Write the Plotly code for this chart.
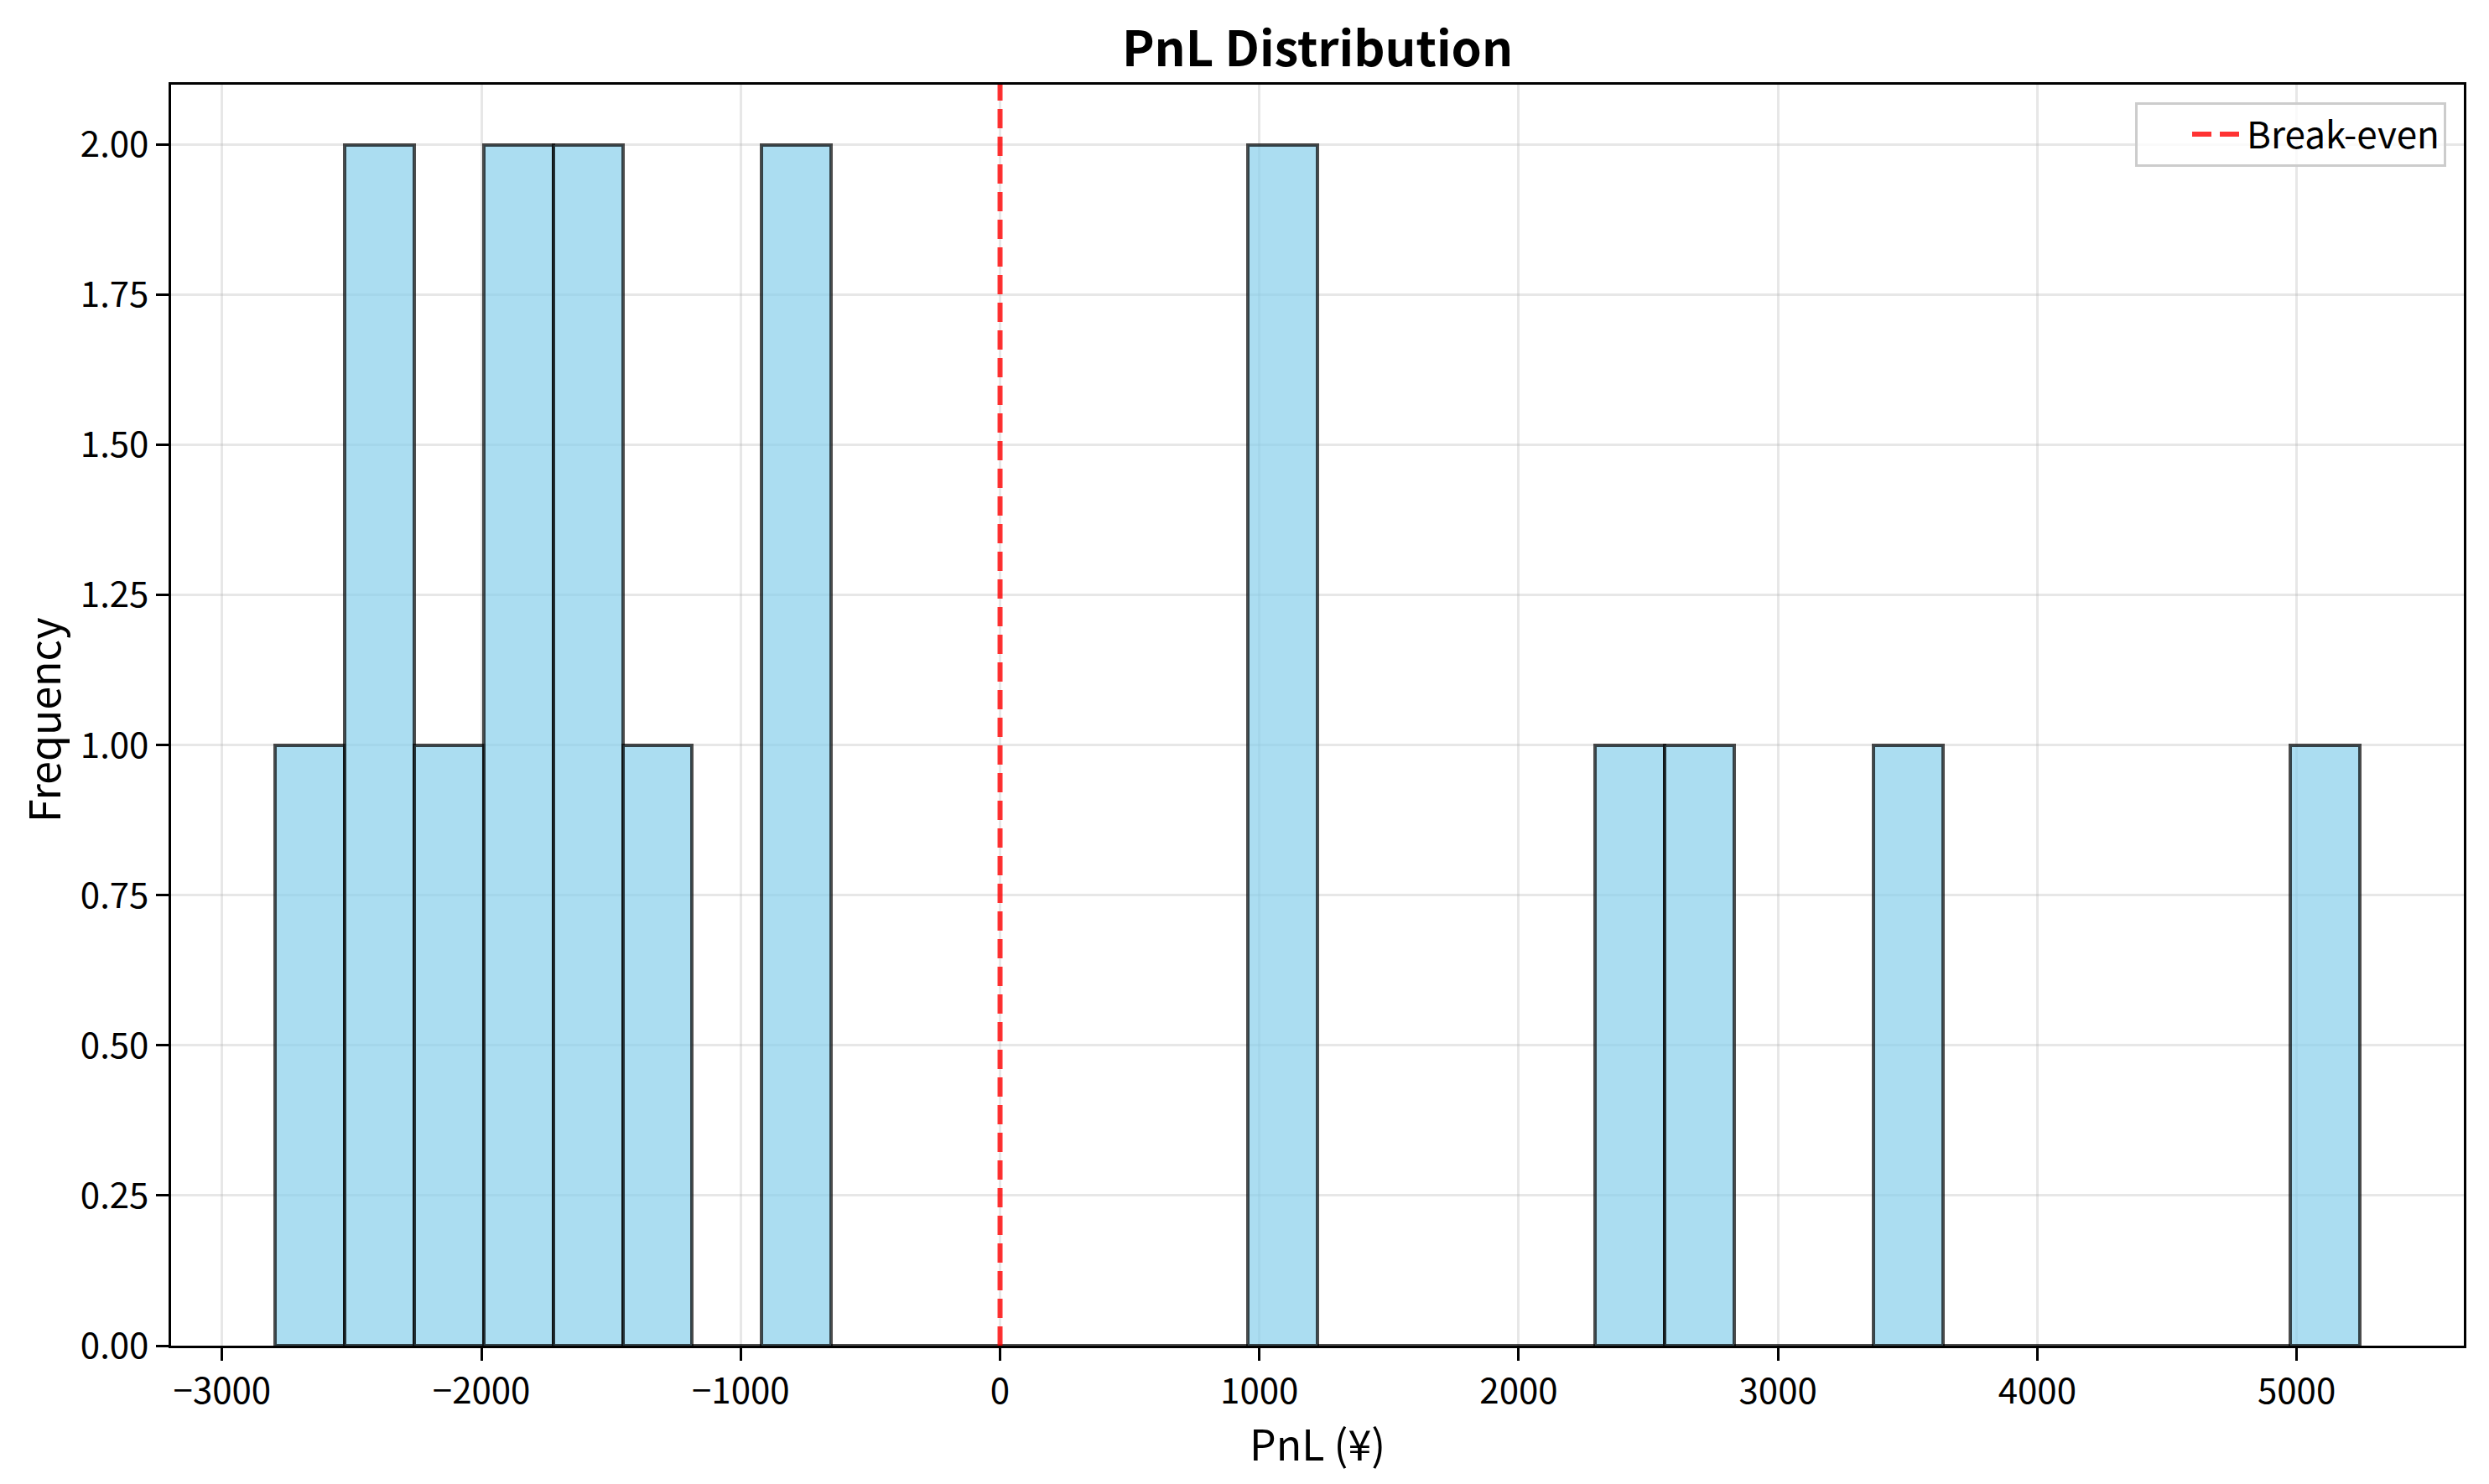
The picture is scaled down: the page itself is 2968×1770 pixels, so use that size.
import plotly.graph_objects as go

# Histogram data (30 bins between min and max PnL)
bin_start = -2795.0
bin_end = 5243.0
n_bins = 30
counts = [1, 2, 1, 2, 2, 1, 0, 2, 0, 0, 0, 0, 0, 0, 2,
          0, 0, 0, 0, 1, 1, 0, 0, 1, 0, 0, 0, 0, 0, 1]
breakeven_x = 0

x_ticks = [-3000, -2000, -1000, 0, 1000, 2000, 3000, 4000, 5000]
y_ticks = [0, 0.25, 0.5, 0.75, 1.0, 1.25, 1.5, 1.75, 2.0]

bin_w = (bin_end - bin_start) / n_bins
centers = [bin_start + (i + 0.5) * bin_w for i in range(n_bins)]

span = bin_end - bin_start
x_range = [bin_start - 0.05 * span, bin_end + 0.05 * span]
y_top = max(counts) * 1.05

FONT = "Noto Sans CJK JP"

# page body offset (browser default margin)
OFF = 8
W, H = 2968 - OFF, 1770 - OFF
ML, MR, MT, MB = 204 - OFF, 30, 101 - OFF, 165
PW, PH = W - ML - MR, H - MT - MB

fig = go.Figure()
fig.add_trace(go.Bar(
    x=centers, y=counts, width=[bin_w] * n_bins,
    marker=dict(color="rgba(135,206,235,0.7)",
                line=dict(color="rgba(0,0,0,0.7)", width=4)),
    showlegend=False, hoverinfo="skip",
))
fig.add_trace(go.Scatter(
    x=[breakeven_x, breakeven_x], y=[0, y_top], mode="lines",
    line=dict(color="rgba(255,0,0,0.8)", width=6, dash="23px,10px"),
    name="Break-even",
))

fig.update_layout(
    width=W, height=H,
    margin=dict(l=ML, r=MR, t=MT, b=MB),
    paper_bgcolor="white", plot_bgcolor="white",
    font=dict(family=FONT, color="black", size=42),
    bargap=0,
    title=dict(text="<b>PnL Distribution</b>", x=(ML + PW / 2) / W, xanchor="center",
               y=1 - (59 - OFF) / H, yanchor="middle", yref="container",
               font=dict(family=FONT, size=58, color="black")),
    legend=dict(x=1 - 21 / PW, xanchor="right", y=1 - 21 / PH, yanchor="top",
                bgcolor="rgba(255,255,255,0.8)", bordercolor="#cccccc", borderwidth=3,
                itemwidth=60, indentation=60,
                font=dict(family=FONT, size=44, color="black")),
    showlegend=True,
)
fig.update_xaxes(
    range=x_range, tickvals=x_ticks, ticks="outside", ticklen=15, tickwidth=3.3,
    tickcolor="black", showline=True, linecolor="black", linewidth=3.3, mirror=True,
    showgrid=True, gridcolor="rgba(176,176,176,0.3)", gridwidth=3.3, zeroline=False,
    tickfont=dict(family=FONT, size=42, color="black"),
)
fig.update_yaxes(
    range=[0, y_top], tickvals=y_ticks, tickformat=".2f", ticks="outside", ticklen=15,
    tickwidth=3.3, tickcolor="black", showline=True, linecolor="black", linewidth=3.3,
    mirror=True, showgrid=True, gridcolor="rgba(176,176,176,0.3)", gridwidth=3.3,
    zeroline=False, tickfont=dict(family=FONT, size=42, color="black"),
)
fig.add_annotation(text="PnL (¥)", xref="paper", yref="paper", x=0.5, y=0,
                   yanchor="top", yshift=-(1682 - 1605), showarrow=False,
                   font=dict(family=FONT, size=50, color="black"))
fig.add_annotation(text="Frequency", xref="paper", yref="paper", x=0, y=0.5,
                   xanchor="center", xshift=-(204 - 50), yshift=-6, textangle=-90,
                   showarrow=False,
                   font=dict(family=FONT, size=50, color="black"))

fig.write_html("out.html")
